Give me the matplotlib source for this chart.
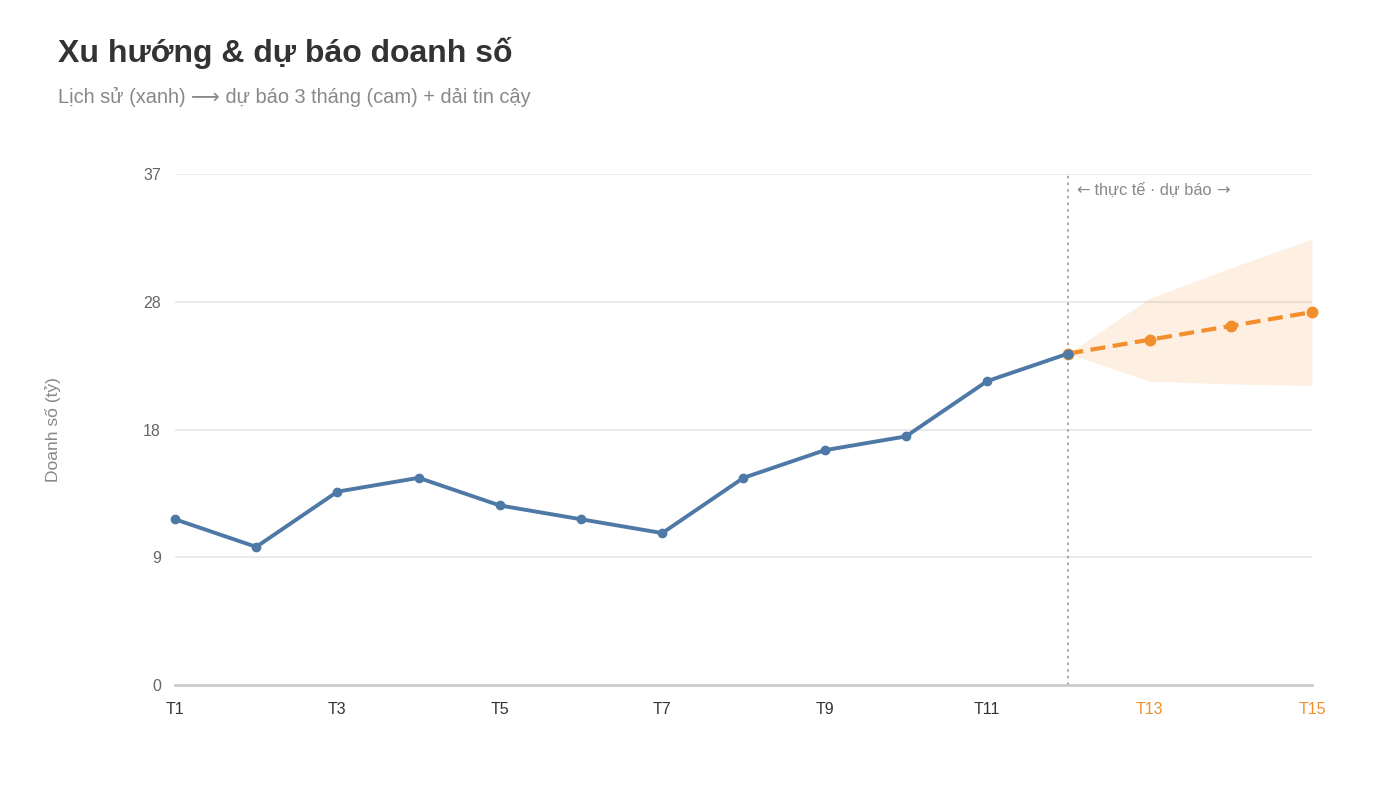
import numpy as np
import matplotlib.pyplot as plt

plt.rcParams['font.family'] = ['Liberation Sans', 'DejaVu Sans']

# data
months = ["T%d" % i for i in range(1, 16)]
actual = [12, 10, 14, 15, 13, 12, 11, 15, 17, 18, 22, 24]
forecast = [24, 25, 26, 27]          # starts at T12 (last actual)
band_hi = [24, 28, 30.2, 32.3]
band_lo = [24, 22, 21.8, 21.7]
y_max = 37
y_ticks = [0, 9.25, 18.5, 27.75, 37]
y_tick_labels = ["0", "9", "18", "28", "37"]

blue = "#4e79a7"
orange = "#f28e2b"
TXT = ['Liberation Sans', 'DejaVu Sans']
ARR = ['DejaVu Sans']

x_all = np.arange(len(months))
x_act = x_all[:len(actual)]
x_fc = x_all[len(actual) - 1:]

fig = plt.figure(figsize=(14, 7.87), dpi=100)
ax = fig.add_axes([0.125, 0.1296, 0.8121, 0.6493])


def rich_text(x, y, parts, transform, **kw):
    # chain text pieces so arrows can come from another font
    s, fam = parts[0]
    t = ax.text(x, y, s, family=fam, transform=transform,
                ha="left", va="bottom", **kw)
    for s, fam in parts[1:]:
        t = ax.annotate(s, xy=(1, 0), xycoords=t, family=fam,
                        ha="left", va="bottom", annotation_clip=False, **kw)
    return t


ax.fill_between(x_fc, band_lo, band_hi, color=orange, alpha=0.14, lw=0, zorder=1)
ax.plot(x_act, actual, color=blue, lw=2.8, marker="o", ms=6, zorder=4, clip_on=False,
        solid_capstyle="round", solid_joinstyle="round")
ax.plot(x_fc, forecast, color=orange, lw=3, ls=(0, (3.6, 1.8)), marker="o", ms=7.5,
        zorder=3, clip_on=False)
ax.plot(x_act[-1], actual[-1], "o", color=blue, ms=6, zorder=5, clip_on=False)

# divider between history and forecast
ax.axvline(x_act[-1], color="#999999", lw=1.2, ls=(0, (1.5, 2.5)), zorder=2)
rich_text(x_act[-1] + 0.1, 35.25,
          [("←", ARR), (" thực tế · dự báo ", TXT), ("→", ARR)],
          ax.transData, color="#888888", fontsize=11.8)

ax.set_xlim(0, len(months) - 1)
ax.set_ylim(0, y_max)
ax.set_yticks(y_ticks)
ax.set_yticklabels(y_tick_labels)
ax.set_xticks(x_all[::2])
ax.set_xticklabels(months[::2])
for lbl, i in zip(ax.get_xticklabels(), x_all[::2]):
    lbl.set_color(orange if i >= len(actual) else "#333333")

ax.grid(axis="y", color="#e6e6e6", lw=1.2)
ax.set_axisbelow(True)
for s in ["top", "right", "left"]:
    ax.spines[s].set_visible(False)
ax.spines["bottom"].set_color("#cccccc")
ax.spines["bottom"].set_linewidth(2)
ax.tick_params(axis="both", length=0, labelsize=11.5)
ax.tick_params(axis="y", colors="#666666", pad=10)
ax.tick_params(axis="x", pad=12)
for lbl in ax.get_yticklabels():
    lbl.set_color("#666666")

ax.set_ylabel("Doanh số (tỷ)", color="#888888", fontsize=12.5)
ax.yaxis.set_label_coords(-0.1, 0.5)

fig.text(0.0414, 0.933, "Xu hướng & dự báo doanh số", fontsize=23, fontweight="bold",
         color="#333333", ha="left", va="center")
rich_text(0.0414, 0.864, [("Lịch sử (xanh) ", TXT), ("⟶", ARR),
                          (" dự báo 3 tháng (cam) + dải tin cậy", TXT)],
          fig.transFigure, color="#888888", fontsize=14.4)

fig.savefig("out.png", dpi=100)
